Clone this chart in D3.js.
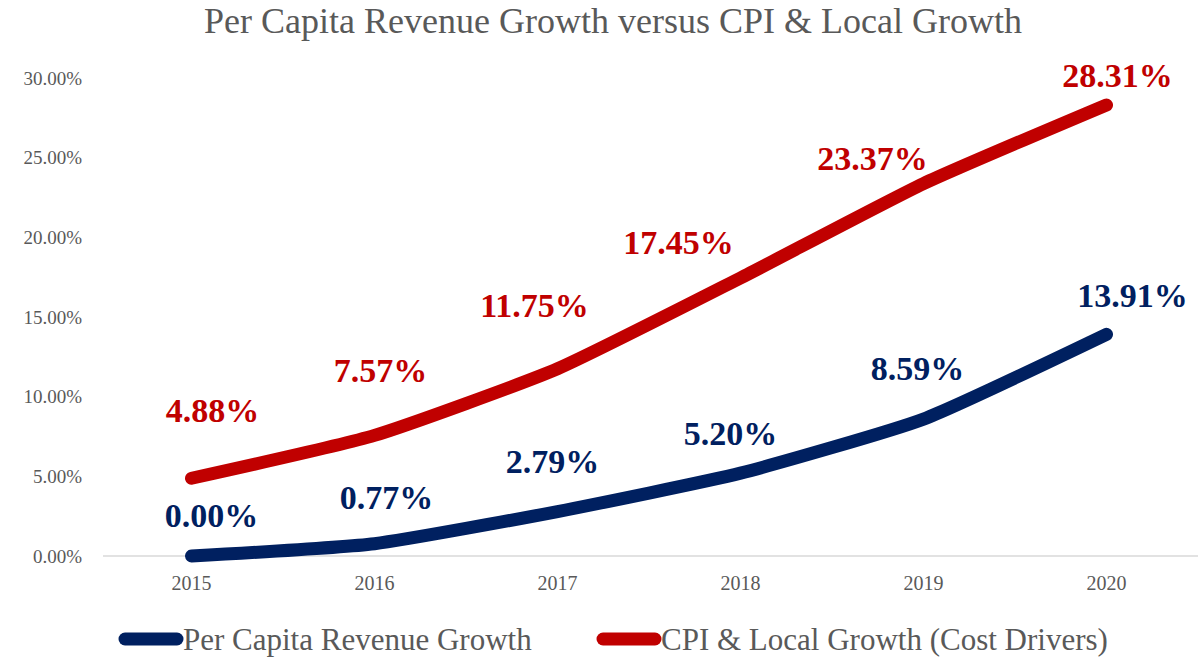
<!DOCTYPE html>
<html>
<head>
<meta charset="utf-8">
<script src="https://cdn.jsdelivr.net/npm/d3@7"></script>
<style>
  body { margin: 0; background: #fff; }
  text { font-family: "Liberation Serif", "DejaVu Serif", serif; }
</style>
</head>
<body>
<div class="chart"></div>
<script>
var years = ["2015", "2016", "2017", "2018", "2019", "2020"];
var revenueGrowth = [0.00, 0.77, 2.79, 5.20, 8.59, 13.91];
var costGrowth = [4.88, 7.57, 11.75, 17.45, 23.37, 28.31];
var yTicks = [0, 5, 10, 15, 20, 25, 30];
var seriesNames = ["Per Capita Revenue Growth", "CPI & Local Growth (Cost Drivers)"];

// label nudges (dx, dy) relative to each point
var revenueNudge = [[20, -41], [12, -47], [-5, -50], [-10, -40], [-6, -51], [26, -39]];
var costNudge = [[21, -68], [6, -65], [-23, -64], [-62, -36], [-51, -26], [11, -30]];

var svgWidth = 1200, svgHeight = 659;
var margin = {top: 78, right: 2, bottom: 103, left: 100};

var svg = d3.select(".chart")
  .append("svg")
  .attr("width", svgWidth)
  .attr("height", svgHeight);

var x = d3.scaleBand().domain(years).range([margin.left, svgWidth - margin.right]);
var y = d3.scaleLinear().domain([0, 30]).range([svgHeight - margin.bottom, margin.top]);
var cx = function(d, i) { return x(years[i]) + x.bandwidth() / 2; };

// title
svg.append("text")
  .attr("x", 613)
  .attr("y", 33)
  .attr("text-anchor", "middle")
  .attr("fill", "#595959")
  .style("font-size", "36px")
  .text("Per Capita Revenue Growth versus CPI & Local Growth");

// y axis labels
svg.selectAll(".ytick")
  .data(yTicks)
  .enter().append("text")
  .attr("class", "ytick")
  .attr("x", 82)
  .attr("y", function(d) { return y(d); })
  .attr("dy", "0.35em")
  .attr("text-anchor", "end")
  .attr("fill", "#595959")
  .style("font-size", "19px")
  .text(function(d) { return d.toFixed(2) + "%"; });

// baseline
svg.append("line")
  .attr("x1", margin.left + 3)
  .attr("x2", svgWidth - margin.right)
  .attr("y1", y(0))
  .attr("y2", y(0))
  .attr("stroke", "#d9d9d9")
  .attr("stroke-width", 1.5);

// x axis labels
svg.selectAll(".xtick")
  .data(years)
  .enter().append("text")
  .attr("class", "xtick")
  .attr("x", function(d) { return x(d) + x.bandwidth() / 2; })
  .attr("y", 590)
  .attr("text-anchor", "middle")
  .attr("fill", "#595959")
  .style("font-size", "20px")
  .text(function(d) { return d; });

var line = d3.line()
  .x(cx)
  .y(function(d) { return y(d); })
  .curve(d3.curveCardinal.tension(0.5));

var series = [
  {values: costGrowth, color: "#C00000", nudge: costNudge},
  {values: revenueGrowth, color: "#002060", nudge: revenueNudge}
];

series.forEach(function(s) {
  svg.append("path")
    .datum(s.values)
    .attr("d", line)
    .attr("fill", "none")
    .attr("stroke", s.color)
    .attr("stroke-width", 13)
    .attr("stroke-linecap", "round")
    .attr("stroke-linejoin", "round");

  svg.selectAll(null)
    .data(s.values)
    .enter().append("text")
    .attr("x", function(d, i) { return cx(d, i) + s.nudge[i][0]; })
    .attr("y", function(d, i) { return y(d) + s.nudge[i][1]; })
    .attr("dy", "0.35em")
    .attr("text-anchor", "middle")
    .attr("fill", s.color)
    .style("font-size", "34px")
    .style("font-weight", "bold")
    .text(function(d) { return d.toFixed(2) + "%"; });
});

// legend
var legendItems = [
  {name: seriesNames[0], color: "#002060", x: 125},
  {name: seriesNames[1], color: "#C00000", x: 603}
];
var legend = svg.selectAll(".legend")
  .data(legendItems)
  .enter().append("g")
  .attr("class", "legend")
  .attr("transform", function(d) { return "translate(" + d.x + ",639)"; });

legend.append("line")
  .attr("x1", 0).attr("x2", 52)
  .attr("y1", 0).attr("y2", 0)
  .attr("stroke", function(d) { return d.color; })
  .attr("stroke-width", 13)
  .attr("stroke-linecap", "round");

legend.append("text")
  .attr("x", 58)
  .attr("y", 0)
  .attr("dy", "0.35em")
  .attr("fill", "#595959")
  .style("font-size", "31px")
  .text(function(d) { return d.name; });
</script>
</body>
</html>
